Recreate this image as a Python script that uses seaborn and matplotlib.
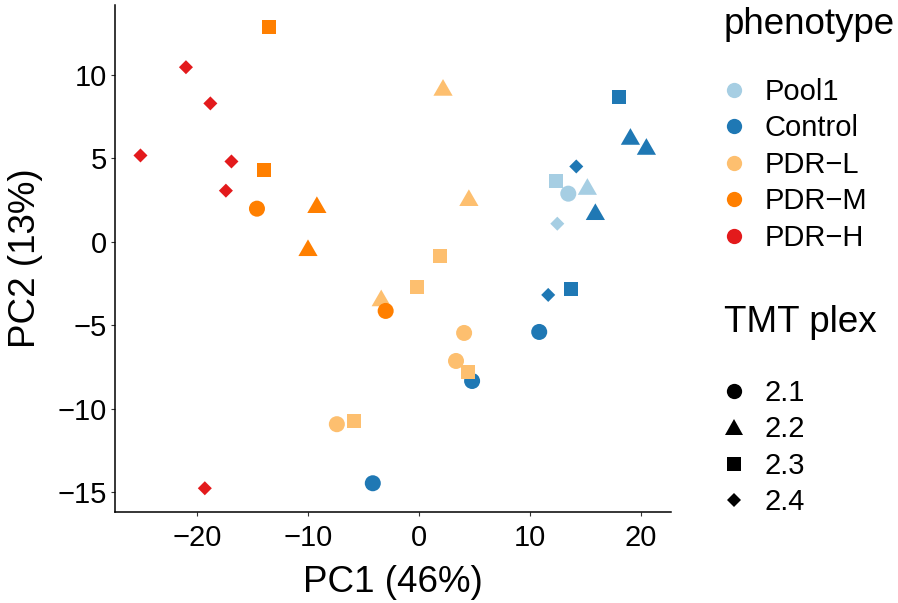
import numpy as np
import pandas as pd
import matplotlib
matplotlib.use('Agg')
import matplotlib.pyplot as plt
from matplotlib.markers import MarkerStyle
from matplotlib.transforms import Affine2D
from matplotlib.lines import Line2D
import seaborn as sns

# PCA scores (drawing order matters for overlaps)
pc1 = [4.79, 10.84, -4.16, 11.65, 13.73, 14.18, 15.9, 18.07, 19.06, 20.5,
       2.17, 4.5, 1.9, -0.2, -3.4, 4.07, 3.34, 4.43, -7.4, -5.87,
       -13.5, -14.0, -14.6, -9.2, -10.0, -3.0,
       -21.0, -18.8, -25.1, -16.9, -17.4, -19.3,
       12.38, 13.46, 15.18, 12.47]
pc2 = [-8.35, -5.41, -14.48, -3.19, -2.82, 4.51, 1.80, 8.65, 6.31, 5.71,
       9.25, 2.64, -0.84, -2.70, -3.37, -5.47, -7.15, -7.81, -10.94, -10.76,
       12.86, 4.27, 1.98, 2.22, -0.36, -4.15,
       10.46, 8.29, 5.17, 4.81, 3.06, -14.78,
       3.61, 2.88, 3.31, 1.08]
phenotype = (['Control'] * 10 + ['PDR-L'] * 10 + ['PDR-M'] * 6 +
             ['PDR-H'] * 6 + ['Pool1'] * 4)
plex = ['2.1', '2.1', '2.1', '2.4', '2.3', '2.4', '2.2', '2.3', '2.2', '2.2',
        '2.2', '2.2', '2.3', '2.3', '2.2', '2.1', '2.1', '2.3', '2.1', '2.3',
        '2.3', '2.3', '2.1', '2.2', '2.2', '2.1',
        '2.4', '2.4', '2.4', '2.4', '2.4', '2.4',
        '2.3', '2.1', '2.2', '2.4']

pheno_levels = ['Pool1', 'Control', 'PDR-L', 'PDR-M', 'PDR-H']
pheno_labels = ['Pool1', 'Control', 'PDR\u2212L', 'PDR\u2212M', 'PDR\u2212H']
pheno_colors = ['#A6CEE3', '#1F78B4', '#FDBF6F', '#FF7F00', '#E31A1C']
plex_levels = ['2.1', '2.2', '2.3', '2.4']

df = pd.DataFrame({'PC1': pc1, 'PC2': pc2, 'phenotype': phenotype, 'plex': plex})

# ggplot-like shapes: circle, triangle, square, small diamond
shapes = {
    '2.1': MarkerStyle('o'),
    '2.2': MarkerStyle('^', transform=Affine2D().scale(1.2, 1.04)),
    '2.3': MarkerStyle('s', transform=Affine2D().scale(0.875)),
    '2.4': MarkerStyle('D', transform=Affine2D().scale(0.62)),
}

sns.set_style('ticks')
plt.rcParams['font.family'] = ['Liberation Sans', 'DejaVu Sans']
plt.rcParams['text.color'] = 'black'
plt.rcParams['axes.labelcolor'] = 'black'

fig = plt.figure(figsize=(8.98, 6.03), dpi=100)
ax = fig.add_axes([0.128, 0.151, 0.619, 0.841])

sns.scatterplot(data=df, x='PC1', y='PC2', hue='phenotype', style='plex',
                hue_order=pheno_levels, style_order=plex_levels,
                palette=dict(zip(pheno_levels, pheno_colors)),
                markers=shapes, s=133, linewidth=0, alpha=1,
                legend=False, ax=ax)

ax.set_xlim(-27.4, 22.7)
ax.set_ylim(-16.2, 14.2)
ax.set_xticks([-20, -10, 0, 10, 20])
ax.set_yticks([-15, -10, -5, 0, 5, 10])
ax.set_xlabel('PC1 (46%)', fontsize=26.5, labelpad=9)
ax.set_ylabel('PC2 (13%)', fontsize=26.5, labelpad=10)
ax.tick_params(labelsize=21, length=3, width=0.8, color='#333333',
               labelcolor='black', pad=3)
ax.tick_params(axis='x', pad=6)
sns.despine(ax=ax)
for sp in ['left', 'bottom']:
    ax.spines[sp].set_linewidth(1.1)
    ax.spines[sp].set_color('black')

# legends built by hand to copy the ggplot layout
fig.text(0.806, 1 - 34 / 603, 'phenotype', fontsize=26.5, va='baseline', ha='left')
fig.text(0.806, 1 - 332 / 603, 'TMT plex', fontsize=26.5, va='baseline', ha='left')

col_handles = [Line2D([], [], linestyle='none', marker='o', markersize=11,
                      markerfacecolor=c, markeredgewidth=0) for c in pheno_colors]
leg1 = ax.legend(col_handles, pheno_labels, loc='upper left',
                 bbox_to_anchor=(0.806, 1 - 78 / 603), bbox_transform=fig.transFigure,
                 frameon=False, borderpad=0, borderaxespad=0, fontsize=21,
                 handlelength=0.7, handletextpad=0.7, labelspacing=0.29)
ax.add_artist(leg1)

shp_handles = [Line2D([], [], linestyle='none', marker=shapes[k], markersize=11,
                      markerfacecolor='black', markeredgewidth=0) for k in plex_levels]
ax.legend(shp_handles, plex_levels, loc='upper left',
          bbox_to_anchor=(0.806, 1 - 379 / 603), bbox_transform=fig.transFigure,
          frameon=False, borderpad=0, borderaxespad=0, fontsize=21,
          handlelength=0.7, handletextpad=0.7, labelspacing=0.29)

fig.savefig('out.png', dpi=100)
